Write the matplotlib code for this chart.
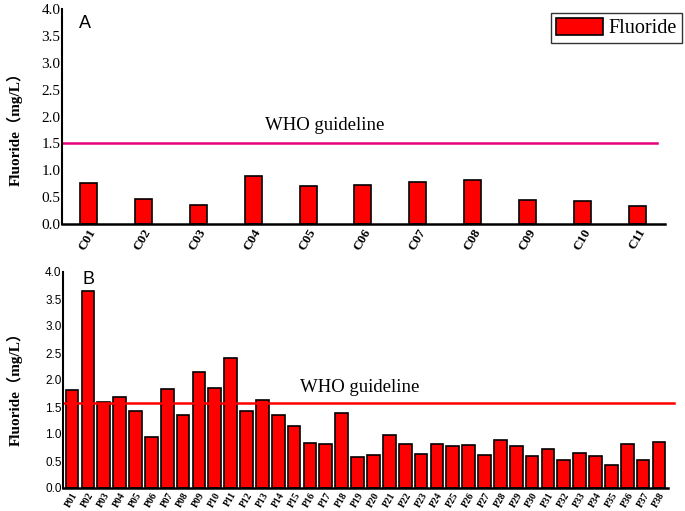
import numpy as np
import matplotlib
matplotlib.use('Agg')
import matplotlib.pyplot as plt
from matplotlib.patches import Patch

# data
c_sites = ['C%02d' % i for i in range(1, 12)]
c_fluoride = [0.76, 0.47, 0.35, 0.89, 0.71, 0.73, 0.78, 0.82, 0.45, 0.43, 0.34]

p_sites = ['P%02d' % i for i in range(1, 39)]
p_fluoride = [1.81, 3.64, 1.60, 1.69, 1.42, 0.94, 1.84, 1.36, 2.15, 1.85,
              2.41, 1.42, 1.63, 1.36, 1.14, 0.84, 0.82, 1.38, 0.57, 0.62,
              0.98, 0.81, 0.63, 0.81, 0.77, 0.80, 0.61, 0.88, 0.78, 0.60,
              0.73, 0.51, 0.64, 0.59, 0.43, 0.81, 0.52, 0.86]

who_top = 1.51
who_bottom = 1.57
yticks = [0.0, 0.5, 1.0, 1.5, 2.0, 2.5, 3.0, 3.5, 4.0]

serif = 'Liberation Serif'
sans = 'Liberation Sans'
ylabel_font = [serif, 'Noto Sans CJK SC']

fig = plt.figure(figsize=(6.85, 5.11), dpi=100)
ax1 = fig.add_axes([62 / 685, 1 - 224 / 511, 603 / 685, 215 / 511])
ax2 = fig.add_axes([63 / 685, 1 - 488 / 511, 605 / 685, 216 / 511])


def style(ax):
    for s in ['top', 'right']:
        ax.spines[s].set_visible(False)
    ax.spines['left'].set_linewidth(1.5)
    ax.spines['bottom'].set_linewidth(1.8)
    ax.set_ylim(0, 4.0)
    ax.set_yticks(yticks)
    ax.tick_params(axis='both', length=0)
    ax.tick_params(axis='y', pad=1)
    ax.tick_params(axis='x', pad=2)


# panel A
x1 = np.arange(len(c_sites))
ax1.bar(x1, c_fluoride, width=0.31, color='#ff0000', edgecolor='black', linewidth=1.2)
style(ax1)
ax1.set_xlim(-0.48, 10.5)
ax1.set_xticks(x1)
ax1.set_xticklabels(c_sites, rotation=60, ha='right', rotation_mode='anchor',
                    fontsize=9.5, fontweight='bold', family=serif)
ax1.set_yticklabels(['%.1f' % v for v in yticks], fontsize=11, family=serif)
ax1.axhline(who_top, xmin=0, xmax=0.987, color='#e6007e', linewidth=1.8)
ax1.text(0.436, 1.84, 'WHO guideline', transform=ax1.get_yaxis_transform(),
         ha='center', va='center', fontsize=13.5, family=serif)
ax1.set_ylabel('Fluoride（mg/L）', fontsize=11, fontweight='bold', family=ylabel_font)
ax1.yaxis.set_label_coords((23 - 62) / 603, (224 - 125) / 215)
fig.text(85 / 685, 1 - 23 / 511, 'A', ha='center', va='center', fontsize=13, family=sans)

# panel B
x2 = np.arange(len(p_sites))
ax2.bar(x2, p_fluoride, width=0.8, color='#ff0000', edgecolor='black', linewidth=1.2)
style(ax2)
ax2.set_xlim(-0.57, 37.57)
ax2.set_xticks(x2)
ax2.set_xticklabels(p_sites, rotation=60, ha='right', rotation_mode='anchor',
                    fontsize=7, fontweight='bold', family=serif)
ax2.set_yticklabels(['%.1f' % v for v in yticks], fontsize=8.5, family=sans)
ax2.axhline(who_bottom, xmin=0, xmax=1.01, color='#ff0000', linewidth=1.8, clip_on=False)
ax2.text(0.491, 1.87, 'WHO guideline', transform=ax2.get_yaxis_transform(),
         ha='center', va='center', fontsize=13.5, family=serif)
ax2.set_ylabel('Fluoride（mg/L）', fontsize=11, fontweight='bold', family=ylabel_font)
ax2.yaxis.set_label_coords((23 - 63) / 605, (488 - 385) / 216)
fig.text(88 / 685, 1 - 280 / 511, 'B', ha='center', va='center', fontsize=13, family=sans)

# legend
handle = Patch(facecolor='#ff0000', edgecolor='black', linewidth=1.2, label='Fluoride')
leg = fig.legend(handles=[handle], loc='upper right', bbox_to_anchor=(682 / 685, 1 - 13 / 511),
                 borderaxespad=0, fancybox=False, frameon=True, handlelength=2.3,
                 handleheight=0.9, handletextpad=0.3, borderpad=0.25,
                 prop={'family': serif, 'size': 14.5})
leg.get_frame().set_edgecolor('black')
leg.get_frame().set_linewidth(1.0)

fig.savefig('out.png', dpi=100)
